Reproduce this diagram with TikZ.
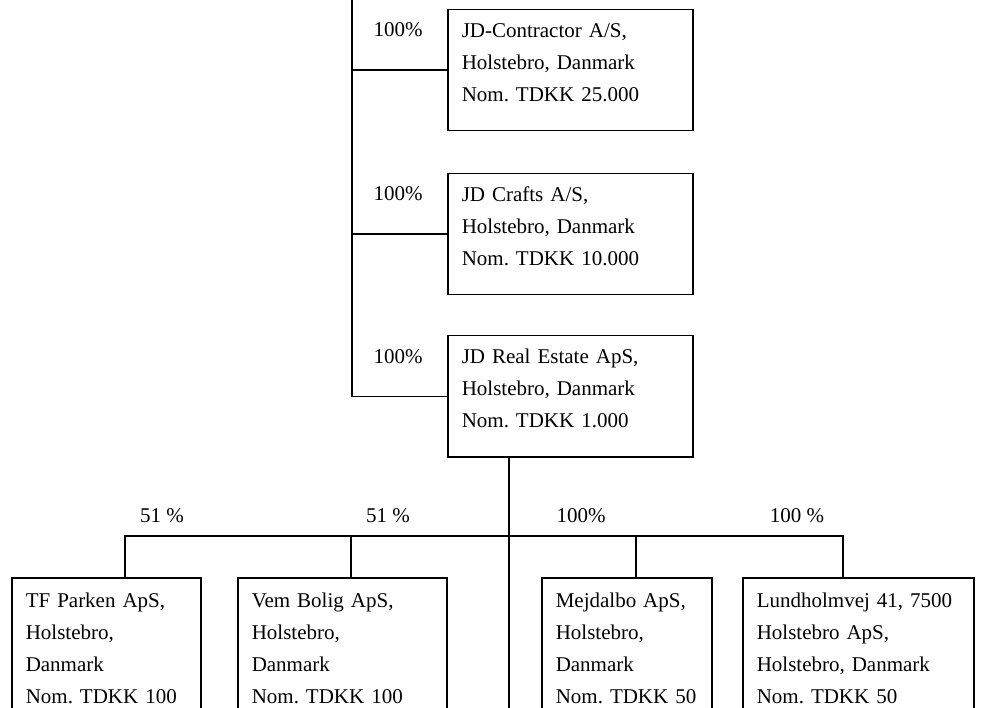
\documentclass[tikz,border=0pt]{standalone}
\usepackage{fontspec}
\setmainfont{Liberation Serif}

\newcommand{\firmpad}{\rule[-16pt]{0pt}{16pt}}

\tikzset{
  firm/.style={draw, line width=1.5pt, anchor=north west, align=left,
    inner xsep=14pt, inner ysep=0pt, font=\fontsize{21}{32}\selectfont\frenchspacing},
  share/.style={anchor=base, font=\fontsize{21}{32}\selectfont},
  link/.style={line width=1.5pt}
}

\begin{document}
\begin{tikzpicture}[x=1pt,y=-1pt]
        \clip (0,0) rectangle (982,708);

        % Companies held from above
        \node[firm, text width=217pt, minimum height=121pt] (jdc) at (447,9)
          {JD-Contractor A/S,\\ Holstebro, Danmark\\ Nom. TDKK 25.000\firmpad};
        \node[firm, text width=217pt, minimum height=121pt] (jdcr) at (447,173)
          {JD Crafts A/S,\\ Holstebro, Danmark\\ Nom. TDKK 10.000\firmpad};
        \node[firm, text width=217pt, minimum height=121pt] (jdre) at (447,335)
          {JD Real Estate ApS,\\ Holstebro, Danmark\\ Nom. TDKK 1.000\firmpad};

        \node[share] (s1) at (398,37) {100\%};
        \node[share] (s2) at (398,201) {100\%};
        \node[share] (s3) at (398,363) {100\%};

        % Line from the owner
        \coordinate (owner) at (352,0);
        \draw[link] (owner) |- (jdre.west);
        \draw[link] (owner |- jdc.west) -- (jdc.west);
        \draw[link] (owner |- jdcr.west) -- (jdcr.west);

        % Companies under JD Real Estate
        \node[firm, text width=161pt, minimum height=157pt] (tfp) at (11,577)
          {TF Parken ApS,\\ Holstebro,\\ Danmark\\ Nom. TDKK 100\firmpad};
        \node[firm, text width=181pt, minimum height=157pt] (vem) at (237,577)
          {Vem Bolig ApS,\\ Holstebro,\\ Danmark\\ Nom. TDKK 100\firmpad};
        \node[firm, text width=142pt, minimum height=157pt] (mej) at (541,577)
          {Mejdalbo ApS,\\ Holstebro,\\ Danmark\\ Nom. TDKK 50\firmpad};
        \node[firm, text width=203pt, minimum height=157pt] (lund) at (742,577)
          {Lundholmvej 41, 7500\\ Holstebro ApS,\\ Holstebro, Danmark\\ Nom. TDKK 50\firmpad};

        \node[share] (s4) at (162,522) {51 \%};
        \node[share] (s5) at (388,522) {51 \%};
        \node[share] (s6) at (581,522) {100\%};
        \node[share] (s7) at (797,522) {100 \%};

        % Bus line
        \coordinate (bus) at (509,536);
        \coordinate (down) at (509,708);
        \draw[link] (jdre.south -| bus) -- (down);
        \draw[link] (tfp.north -| 125,0) -- (125,536) -- (843,536) -- (lund.north -| 843,0);
        \draw[link] (vem.north -| 351,0) -- (351,536);
        \draw[link] (mej.north -| 636,0) -- (636,536);
    \end{tikzpicture}
\end{document}
